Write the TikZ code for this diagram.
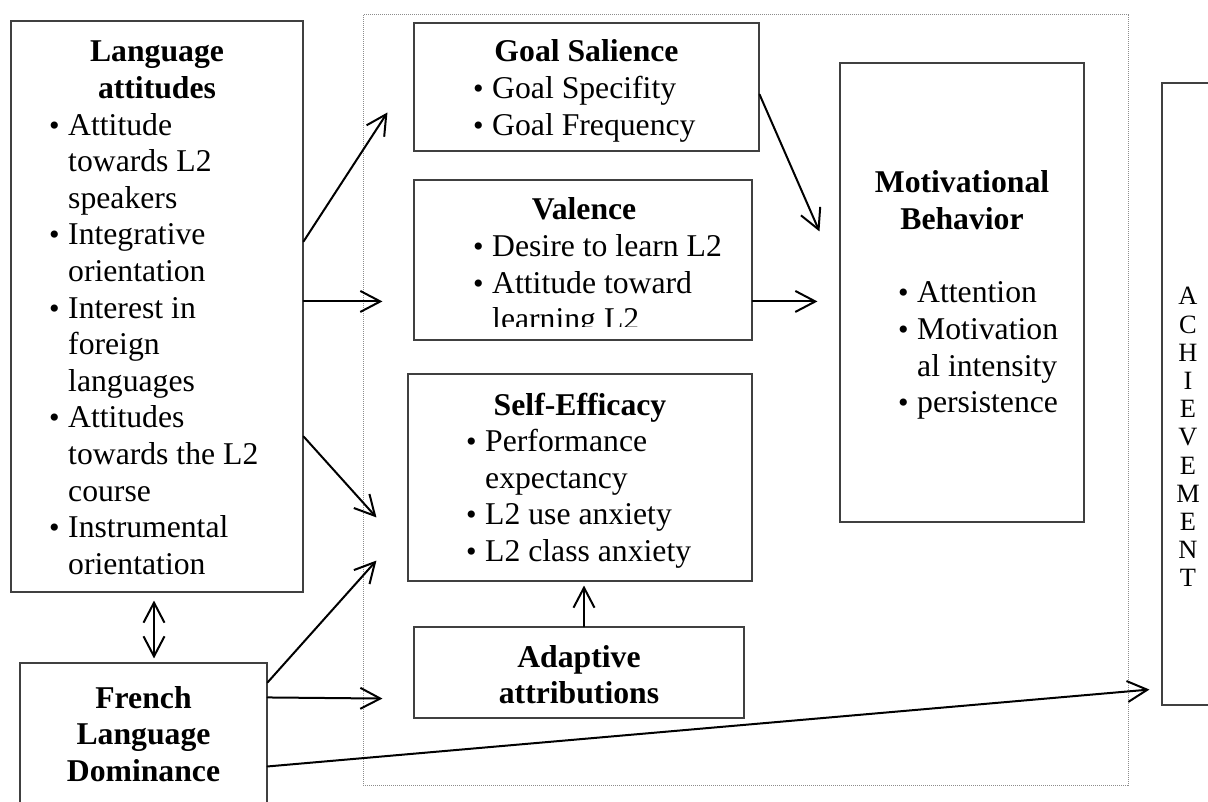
\documentclass[tikz,border=0pt]{standalone}
\usepackage{fontspec}
\setmainfont{Liberation Serif}
\usetikzlibrary{arrows.meta,calc}

% bullet item and continuation indent for the lists
\newcommand{\itm}{\makebox[19pt][l]{{\fontsize{30}{30}\selectfont •}}}
\newcommand{\cnt}{\hspace*{19pt}}

\tikzset{
  box/.style={draw=black!75, line width=1.1pt, rectangle, inner sep=0pt},
  frame/.style={draw=black!45, line width=1pt, dash pattern=on 1pt off 1pt, rectangle, inner sep=0pt},
  txt/.style={inner sep=0pt, font=\fontsize{31.7}{36.6}\selectfont},
  title/.style={inner sep=0pt, font=\fontsize{31.7}{36.6}\selectfont\bfseries, anchor=base},
  list/.style={txt, anchor=base west},
  conn/.style={line width=2pt, line cap=round, -{Straight Barb[length=20pt,width=21pt]}},
  conn2/.style={line width=2pt, line cap=round, {Straight Barb[length=20pt,width=21pt]}-{Straight Barb[length=20pt,width=21pt]}}
}

\begin{document}
\begin{tikzpicture}[x=1pt, y=-1pt]
\useasboundingbox (0,0) rectangle (1208,802);
\clip (0,0) rectangle (1208,802);

% dotted frame around the motivation constructs
\node[frame, minimum width=765pt, minimum height=770pt] (frame) at (745.5,400) {};

% boxes
\node[box, minimum width=292pt, minimum height=571pt] (la) at (157,306.5) {};
\node[box, minimum width=247pt, minimum height=187pt] (fr) at (143.5,756.5) {};
\node[box, minimum width=345pt, minimum height=128pt] (gs) at (586.5,87) {};
\node[box, minimum width=338pt, minimum height=160pt] (va) at (583,260) {};
\node[box, minimum width=344pt, minimum height=207pt] (se) at (580,477.5) {};
\node[box, minimum width=330pt, minimum height=91pt] (ad) at (579,672.5) {};
\node[box, minimum width=244pt, minimum height=459pt] (mb) at (962,292.5) {};
\node[box, minimum width=100pt, minimum height=622pt] (ach) at (1212,394) {};

% Language attitudes
\node[title] (latitle) at (157,62) {\parbox[t]{280pt}{\centering Language\\attitudes}};
\node[list] (lalist) at (49,135.2) {\parbox[t]{250pt}{\raggedright
  \itm Attitude\\ \cnt towards L2\\ \cnt speakers\\
  \itm Integrative\\ \cnt orientation\\
  \itm Interest in\\ \cnt foreign\\ \cnt languages\\
  \itm Attitudes\\ \cnt towards the L2\\ \cnt course\\
  \itm Instrumental\\ \cnt orientation}};

% French Language Dominance
\node[title] (frtitle) at (143.5,708) {\parbox[t]{240pt}{\centering French\\Language\\Dominance}};

% Goal Salience
\node[title] (gstitle) at (586.5,62) {Goal Salience};
\node[list] (gslist) at (473,98.6) {\parbox[t]{280pt}{\raggedright
  \itm Goal Specifity\\ \itm Goal Frequency}};

% Valence (last line cut by the box's inner margin)
\node[title] (vatitle) at (584,220) {Valence};
\begin{scope}
  \clip (414,180) rectangle (752,327);
  \node[list] (valist) at (473,256.6) {\parbox[t]{280pt}{\raggedright
    \itm Desire to learn L2\\ \itm Attitude toward\\ \cnt learning L2}};
\end{scope}

% Self-Efficacy
\node[title] (setitle) at (580,415) {Self-Efficacy};
\node[list] (selist) at (466,451.6) {\parbox[t]{280pt}{\raggedright
  \itm Performance\\ \cnt expectancy\\ \itm L2 use anxiety\\ \itm L2 class anxiety}};

% Adaptive attributions
\node[title] (adtitle) at (579,667) {\parbox[t]{320pt}{\centering Adaptive\\attributions}};

% Motivational Behavior
\node[title] (mbtitle) at (962,193) {\parbox[t]{240pt}{\centering Motivational\\Behavior}};
\node[list] (mblist) at (898,303) {\parbox[t]{180pt}{\raggedright
  \itm Attention\\ \itm Motivation\\ \cnt al intensity\\ \itm persistence}};

% ACHIEVEMENT, one letter per line
\node[inner sep=0pt, anchor=base] (achtext) at (1188,305) {\parbox[t]{40pt}{\centering
  \fontsize{26.4}{28.2}\selectfont A\\C\\H\\I\\E\\V\\E\\M\\E\\N\\T}};

% connectors
\draw[conn] ($(la.north east)+(0,221)$) -- ($(gs.north west)+(-26,90)$);
\draw[conn] ($(la.north east)+(0,281)$) -- ($(va.north west)+(-31,122)$);
\draw[conn] ($(la.north east)+(0,416)$) -- ($(se.north west)+(-31,144)$);
\draw[conn2] ($(la.south)+(-3,8)$) -- ($(fr.north)+(10.5,-4)$);
\draw[conn] ($(fr.north east)+(0,20)$) -- ($(se.south west)+(-31,-21)$);
\draw[conn] ($(fr.north east)+(0,35)$) -- ($(ad.south west)+(-31,-20)$);
\draw[conn] ($(fr.north east)+(0,104)$) -- ($(ach.south west)+(-12,-16)$);
\draw[conn] ($(gs.north east)+(0,72)$) -- ($(mb.north west)+(-20,169)$);
\draw[conn] ($(va.north east)+(0,122)$) -- ($(mb.north west)+(-22,239)$);
\draw[conn] ($(ad.north)+(5,0)$) -- ($(se.south)+(4,4)$);
\end{tikzpicture}
\end{document}
